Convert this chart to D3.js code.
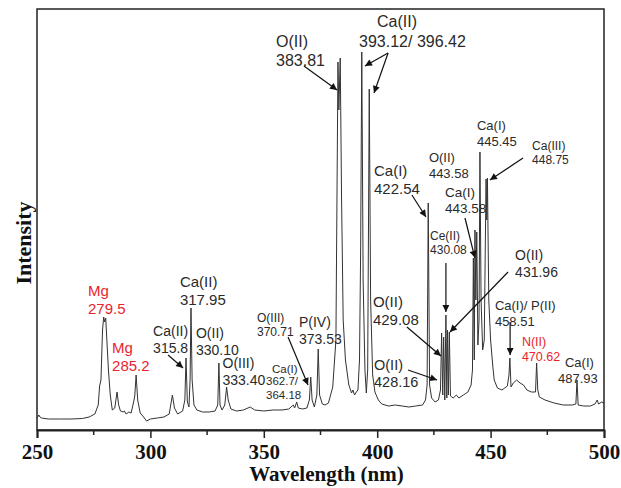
<!DOCTYPE html>
<html>
<head>
<meta charset="utf-8">
<script src="https://cdn.jsdelivr.net/npm/d3@7"></script>
<style>
  body { margin: 0; background: #fff; }
  svg { display: block; }
</style>
</head>
<body>
<div id="chart"></div>
<script>
// spectrum (wavelength in nm, intensity in a.u.)
const wavelength = [
  250.0, 250.8, 251.3, 252, 255, 260, 265, 270, 273, 275.5, 277, 277.6, 278.2, 278.9, 279.4, 279.8, 280.3, 280.8,
  281.5, 282.3, 283.2, 284.3, 285.3, 286.0, 286.8, 288.0, 288.5, 289.3, 290.5, 291.5, 292.6, 293.1, 293.7, 294.4,
  295.5, 297, 298.3, 300, 303, 306, 308.3, 309.7, 310.6, 312, 314.2, 315.2, 315.7, 316.3, 317.0, 317.5, 317.9,
  318.4, 319.2, 320.5, 323, 326, 328.5, 329.7, 330.2, 330.7, 331.6, 332.8, 333.6, 334.3, 335.5, 338, 341, 344,
  346, 350, 354, 358, 361, 362.5, 363.0, 363.6, 364.5, 365.2, 367, 369, 370.1, 370.7, 371.3, 372.3, 373.4, 374.0,
  374.6, 375.8, 377.0, 378.5, 380.4, 381.8, 382.7, 383.1, 383.7, 384.3, 385, 386, 387.5, 388.7, 389.3, 390, 390.8,
  391.5, 392.2, 392.7, 393.2, 393.8, 394.6, 395.2, 395.8, 396.5, 397.1, 398, 399, 400.5, 402, 405, 408, 411, 414,
  417, 420, 421.3, 422.0, 422.5, 423.1, 424, 425.5, 427, 427.9, 428.4, 428.9, 429.3, 429.8, 430.3, 430.7, 431.0,
  431.4, 431.8, 432.3, 433.5, 434.9, 436, 438, 440, 441.4, 442.0, 442.4, 442.8, 443.1, 443.5, 443.9, 444.4, 444.9,
  445.3, 445.8, 446.5, 447.2, 448.0, 448.3, 448.6, 449.2, 450, 451, 451.6, 453, 455, 457.4, 458.1, 458.5, 459.0,
  460, 461.5, 462.5, 463, 464.5, 466, 468, 469.8, 470.3, 470.8, 471.5, 474, 478, 482, 486, 487.6, 488.1, 488.6,
  491, 494, 496, 497, 497.6, 499, 500
];
const intensity = [
  12, 15, 13, 12, 11, 11, 11, 11.5, 13, 16, 25, 44, 50, 100, 113, 108, 112, 90,
  60, 35, 20, 22, 38, 25, 19, 18, 19, 16, 18, 17, 28, 34, 55, 30,
  17, 13, 9, 11, 12, 13, 16, 35, 22, 16, 19, 30, 72, 28, 23, 50, 122,
  50, 25, 20, 18, 18, 19, 25, 67, 25, 20, 25, 43, 30, 21, 19, 20, 23,
  20, 19, 20, 20, 21, 24, 25, 22, 28, 22, 21, 22, 30, 53, 30, 23, 35, 81,
  35, 26, 25, 27, 43, 90, 368, 320, 372, 230, 110, 70, 45, 37, 40, 35, 38,
  40, 70, 180, 378, 150, 60, 37, 60, 341, 130, 55, 38, 30, 26, 24, 25, 24, 23,
  24, 25, 30, 45, 227, 45, 32, 28, 30, 40, 97, 35, 93, 30, 115, 32, 100,
  35, 98, 34, 32, 35, 32, 35, 38, 45, 60, 172, 70, 200, 130, 198, 85, 110,
  278, 130, 80, 90, 251, 210, 252, 130, 90, 63, 50, 42, 40, 44, 55, 72, 43,
  47, 50, 48, 47, 45, 40, 38, 38, 67, 40, 33, 30, 27, 25, 25, 26, 50, 25,
  24, 24, 26, 30, 26, 28, 27
];

const majorTicks = [250, 300, 350, 400, 450, 500];
const minorTicks = [275, 325, 375, 425, 475];

// peak labels: lines of text anchored at (wavelength, intensity)
const labels = [
  {lines: ["Mg", "279.5"], x: 272.5, y: 134, size: 15, red: true},
  {lines: ["Mg", "285.2"], x: 283.1, y: 77, size: 15, red: true},
  {lines: ["Ca(II)", "317.95"], x: 313.0, y: 143, size: 15},
  {lines: ["Ca(II)", "315.8"], x: 301.2, y: 94, size: 14},
  {lines: ["O(II)", "330.10"], x: 320.1, y: 92, size: 14},
  {lines: ["O(III)", "333.40"], x: 331.8, y: 62, size: 14},
  {lines: ["O(III)", "370.71"], x: 347.0, y: 108, size: 12},
  {lines: ["Ca(I)"], x: 353.6, y: 57, size: 11.5},
  {lines: ["362.7/", "364.18"], x: 351.0, y: 45, size: 11.5},
  {lines: ["P(IV)", "373.53"], x: 365.5, y: 103, size: 14},
  {lines: ["O(II)", "383.81"], x: 355.4, y: 383, size: 16},
  {lines: ["Ca(II)"], x: 399.9, y: 403, size: 16},
  {lines: ["393.12/ 396.42"], x: 392.0, y: 383, size: 16},
  {lines: ["Ca(I)", "422.54"], x: 398.6, y: 254, size: 15},
  {lines: ["O(II)", "443.58"], x: 422.8, y: 268, size: 13},
  {lines: ["Ca(I)", "445.45"], x: 444.0, y: 300, size: 13},
  {lines: ["Ca(III)", "448.75"], x: 468.3, y: 280, size: 12},
  {lines: ["Ca(I)", "443.58"], x: 429.9, y: 233, size: 13.5},
  {lines: ["Ce(II)", "430.08"], x: 423.3, y: 190, size: 12},
  {lines: ["O(II)", "431.96"], x: 460.8, y: 170, size: 14},
  {lines: ["O(II)", "429.08"], x: 398.1, y: 123, size: 15},
  {lines: ["O(II)", "428.16"], x: 398.6, y: 60, size: 14.5},
  {lines: ["Ca(I)/ P(II)", "458.51"], x: 451.9, y: 120, size: 13},
  {lines: ["N(II)", "470.62"], x: 463.8, y: 84, size: 12.5, red: true},
  {lines: ["Ca(I)"], x: 482.8, y: 63, size: 13},
  {lines: ["487.93"], x: 479.7, y: 47, size: 13}
];

// arrows from label to peak: [wl1, int1, wl2, int2]
const arrows = [
  [307.8, 75, 314.4, 62],
  [360.7, 93, 369.5, 45],
  [367.7, 364, 382.3, 340],
  [404.8, 377, 394.6, 364],
  [404.8, 377, 398.6, 337],
  [415.3, 235, 421.5, 213],
  [464.3, 272, 449.7, 250],
  [438.7, 212, 443.1, 172],
  [430.3, 167, 430.3, 118],
  [457.7, 158, 432.1, 98],
  [413.1, 103, 428.1, 74],
  [413.6, 60, 426.4, 50],
  [458.6, 108, 458.6, 75]
];

const margin = {top: 9, right: 17, bottom: 58, left: 37},
    totalW = 621, totalH = 488,
    width = totalW - margin.left - margin.right,
    height = totalH - margin.top - margin.bottom;

const svg = d3.select('#chart').append('svg')
    .attr('width', totalW)
    .attr('height', totalH)
    .style('background', '#fff');

const g = svg.append('g')
    .attr('transform', `translate(${margin.left},${margin.top})`);

const x = d3.scaleLinear().domain([250, 500]).range([0, width]);
const y = d3.scaleLinear().domain([0, 421]).range([height, 0]);

svg.append('defs').append('marker')
    .attr('id', 'head')
    .attr('viewBox', '0 0 10 10')
    .attr('refX', 10).attr('refY', 5)
    .attr('markerWidth', 9).attr('markerHeight', 7)
    .attr('markerUnits', 'userSpaceOnUse')
    .attr('orient', 'auto')
    .append('path')
    .attr('d', 'M0,0 L10,5 L0,10 Z')
    .attr('fill', '#111');

// spectrum
const pts = wavelength.map((w, i) => [w, intensity[i]]);
g.append('path')
    .datum(pts)
    .attr('fill', 'none')
    .attr('stroke', '#333')
    .attr('stroke-width', 1)
    .attr('d', d3.line().x(d => x(d[0])).y(d => y(d[1])));

// frame
g.append('rect')
    .attr('width', width).attr('height', height)
    .attr('fill', 'none')
    .attr('stroke', '#222')
    .attr('stroke-width', 1.5);

// bottom axis
const ax = g.append('g')
    .attr('transform', `translate(0,${height})`)
    .call(d3.axisBottom(x).tickValues(majorTicks).tickSize(8).tickPadding(6).tickFormat(d3.format('d')));
ax.select('.domain').attr('stroke', '#222').attr('stroke-width', 2);
ax.selectAll('.tick line').attr('stroke', '#222').attr('stroke-width', 1.5);
ax.selectAll('text')
    .attr('fill', '#111')
    .style('font-family', '"Liberation Serif", "Times New Roman", serif')
    .style('font-weight', 'bold')
    .style('font-size', '21px');

g.append('g')
    .attr('transform', `translate(0,${height})`)
    .selectAll('line')
    .data(minorTicks)
    .enter()
    .append('line')
    .attr('x1', d => x(d)).attr('x2', d => x(d))
    .attr('y1', 0).attr('y2', 5)
    .attr('stroke', '#222')
    .attr('stroke-width', 1.5);

// axis titles
svg.append('text')
    .attr('x', margin.left + width / 2 + 6)
    .attr('y', 481)
    .attr('text-anchor', 'middle')
    .style('font-family', '"Liberation Serif", "Times New Roman", serif')
    .style('font-weight', 'bold')
    .style('font-size', '21px')
    .attr('fill', '#111')
    .text('Wavelength (nm)');

svg.append('text')
    .attr('transform', 'translate(31,243) rotate(-90)')
    .attr('text-anchor', 'middle')
    .style('font-family', '"Liberation Serif", "Times New Roman", serif')
    .style('font-weight', 'bold')
    .style('font-size', '22px')
    .attr('fill', '#111')
    .text('Intensity');

// arrows
g.selectAll('.arrow')
    .data(arrows)
    .enter()
    .append('line')
    .attr('class', 'arrow')
    .attr('x1', d => x(d[0])).attr('y1', d => y(d[1]))
    .attr('x2', d => x(d[2])).attr('y2', d => y(d[3]))
    .attr('stroke', '#111')
    .attr('stroke-width', 1.2)
    .attr('marker-end', 'url(#head)');

// labels
labels.forEach(l => {
    const t = g.append('text')
        .attr('x', x(l.x))
        .attr('y', y(l.y))
        .style('font-family', '"Liberation Sans", Arial, sans-serif')
        .style('font-size', l.size + 'px')
        .attr('fill', l.red ? '#e8242c' : '#2a2a2a');
    l.lines.forEach((s, i) => {
        t.append('tspan')
            .attr('x', x(l.x))
            .attr('dy', i === 0 ? 0 : l.size * 1.2)
            .text(s);
    });
});
</script>
</body>
</html>
